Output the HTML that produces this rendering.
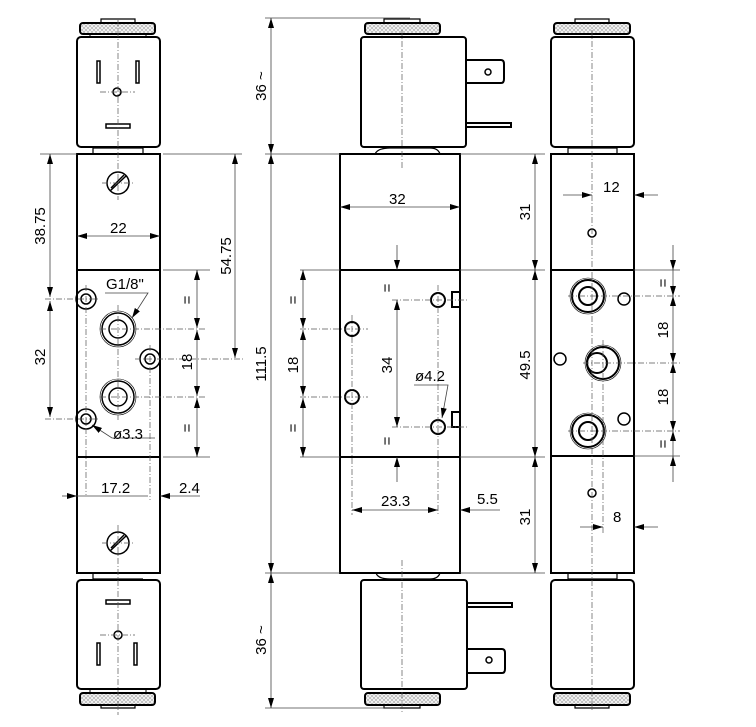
<!DOCTYPE html>
<html><head><meta charset="utf-8"><style>
html,body{margin:0;padding:0;background:#fff}
svg{display:block}
text{font-family:"Liberation Sans",Arial,sans-serif;font-size:15px;fill:#000}
</style></head><body>
<svg width="756" height="727" viewBox="0 0 756 727" xmlns="http://www.w3.org/2000/svg">
<defs>
<pattern id="kn" width="4" height="4" patternUnits="userSpaceOnUse"><rect width="4" height="4" fill="#f0f0f0"/><path d="M0 0L4 4M4 0L0 4" stroke="#999" stroke-width="0.5"/></pattern>
<marker id="a" viewBox="0 0 10 6" refX="10" refY="3" markerWidth="10" markerHeight="6" orient="auto-start-reverse" markerUnits="userSpaceOnUse"><path d="M0 0L10 3L0 6z" fill="#000"/></marker>
</defs>
<g fill="none" stroke="#000">
<!-- ===== LEFT VIEW ===== -->
<g stroke-width="2">
<rect x="77" y="154" width="83" height="419"/>
<line x1="77" y1="270" x2="160" y2="270"/><line x1="77" y1="457" x2="160" y2="457"/>
<rect x="77" y="37" width="83" height="110" rx="4"/>
<rect x="77" y="580" width="83" height="109" rx="4"/>
<rect x="80" y="23" width="75" height="11" rx="3" fill="url(#kn)"/>
<rect x="80" y="693" width="75" height="12" rx="3" fill="url(#kn)"/>
</g>
<path d="M101 23V19H135V23M101 705V708H135V705" stroke-width="1.2"/>
<path d="M93 154V148H143V154M93 573V579H143V579" stroke-width="1.2"/>
<path d="M90 34V37M146 34V37M90 689V693M146 689V693" stroke-width="1"/>
<g stroke-width="1.5">
<rect x="97" y="61" width="3" height="22"/><rect x="136" y="61" width="3" height="22"/>
<circle cx="117" cy="92" r="4"/><rect x="106" y="124" width="24" height="4"/>
<rect x="97" y="643" width="3" height="22"/><rect x="134" y="643" width="3" height="22"/>
<circle cx="118" cy="635" r="4"/><rect x="106" y="600" width="24" height="4"/>
<circle cx="118" cy="183" r="11"/><path d="M110 191L126 176M111 188L124 175" />
<circle cx="118" cy="543" r="11"/><path d="M110 551L126 536M111 548L124 535"/>
<circle cx="86" cy="299" r="10"/><circle cx="86" cy="299" r="5"/>
<circle cx="86" cy="419" r="10"/><circle cx="86" cy="419" r="5"/>
<circle cx="118" cy="329" r="16"/><circle cx="118" cy="329" r="9"/>
<circle cx="118" cy="397" r="16"/><circle cx="118" cy="397" r="9"/>
<circle cx="150" cy="359" r="10"/><circle cx="150" cy="359" r="5"/>
</g>
<circle cx="118" cy="329" r="18" stroke-width="0.6"/><circle cx="118" cy="397" r="18" stroke-width="0.6"/>
<g stroke-width="0.7" stroke-dasharray="6,2,1,2" stroke="#555">
<line x1="118" y1="20" x2="118" y2="200"/><line x1="118" y1="525" x2="118" y2="715"/>
<line x1="86" y1="285" x2="86" y2="495"/><line x1="150" y1="345" x2="150" y2="500"/>
<line x1="118" y1="305" x2="118" y2="420"/>
<line x1="45" y1="299" x2="100" y2="299"/><line x1="45" y1="419" x2="100" y2="419"/>
<line x1="100" y1="329" x2="205" y2="329"/><line x1="100" y1="397" x2="205" y2="397"/>
<line x1="135" y1="359" x2="245" y2="359"/><line x1="100" y1="92" x2="135" y2="92"/><line x1="100" y1="635" x2="135" y2="635"/>
<line x1="102" y1="183" x2="134" y2="183"/><line x1="102" y1="543" x2="134" y2="543"/>
</g>
<g stroke-width="0.8" stroke="#444">
<line x1="40" y1="154" x2="77" y2="154"/><line x1="163" y1="154" x2="242" y2="154"/>
<line x1="163" y1="270" x2="210" y2="270"/><line x1="163" y1="457" x2="210" y2="457"/>
<line x1="50" y1="154" x2="50" y2="297" marker-start="url(#a)" marker-end="url(#a)"/>
<line x1="50" y1="301" x2="50" y2="417" marker-start="url(#a)" marker-end="url(#a)"/>
<line x1="235" y1="154" x2="235" y2="358" marker-start="url(#a)" marker-end="url(#a)"/>
<line x1="77" y1="236" x2="160" y2="236" marker-start="url(#a)" marker-end="url(#a)"/>
<line x1="197" y1="270" x2="197" y2="328" marker-start="url(#a)" marker-end="url(#a)"/>
<line x1="197" y1="330" x2="197" y2="396" marker-start="url(#a)" marker-end="url(#a)"/>
<line x1="197" y1="398" x2="197" y2="457" marker-start="url(#a)" marker-end="url(#a)"/>
<line x1="62" y1="496" x2="77" y2="496" marker-end="url(#a)"/><line x1="77" y1="496" x2="148" y2="496"/>
<line x1="200" y1="496" x2="160" y2="496" marker-end="url(#a)"/>
<path d="M105 293H148L132 318" marker-end="url(#a)"/>
<path d="M155 438H112L92 425" marker-end="url(#a)"/>
</g>
<!-- ===== MIDDLE VIEW ===== -->
<g stroke-width="2">
<rect x="340" y="154" width="120" height="419"/>
<line x1="340" y1="270" x2="460" y2="270"/><line x1="340" y1="457" x2="460" y2="457"/>
<rect x="361" y="37" width="105" height="110" rx="3"/>
<rect x="361" y="580" width="106" height="109" rx="3"/>
<rect x="365" y="23" width="75" height="11" rx="3" fill="url(#kn)"/>
<rect x="365" y="693" width="75" height="12" rx="3" fill="url(#kn)"/>
<path d="M466 60H501Q504 60 504 64V79Q504 83 501 83H466"/>
<path d="M467 649H502Q505 649 505 653V669Q505 673 502 673H467"/>
<rect x="466" y="123" width="45" height="4"/><rect x="467" y="603" width="45" height="4"/>
<circle cx="438" cy="300" r="7"/><rect x="452" y="292" width="8" height="15"/>
<circle cx="438" cy="427" r="7"/><rect x="452" y="412" width="8" height="15"/>
<circle cx="352" cy="329" r="7"/><circle cx="352" cy="397" r="7"/>
</g>
<circle cx="488" cy="72" r="3" stroke-width="1.5"/><circle cx="489" cy="660" r="3" stroke-width="1.5"/>
<path d="M384 23V19H420V23M384 705V708H420V705M375 154Q378 148 390 148H430Q438 148 440 154M376 573Q378 579 390 579H430Q438 579 440 573" stroke-width="1.2"/>
<g stroke-width="0.7" stroke-dasharray="6,2,1,2" stroke="#555">
<line x1="402" y1="30" x2="402" y2="168"/><line x1="402" y1="560" x2="402" y2="712"/>
<line x1="438" y1="285" x2="438" y2="515"/><line x1="352" y1="315" x2="352" y2="515"/>
<line x1="300" y1="329" x2="368" y2="329"/><line x1="300" y1="397" x2="368" y2="397"/>
<line x1="392" y1="300" x2="468" y2="300"/><line x1="392" y1="427" x2="468" y2="427"/>
</g>
<g stroke-width="0.8" stroke="#444">
<line x1="265" y1="18" x2="410" y2="18"/><line x1="265" y1="154" x2="340" y2="154"/><line x1="265" y1="573" x2="340" y2="573"/><line x1="265" y1="708" x2="400" y2="708"/>
<line x1="271" y1="18" x2="271" y2="154" marker-start="url(#a)" marker-end="url(#a)"/>
<line x1="271" y1="154" x2="271" y2="573" marker-start="url(#a)" marker-end="url(#a)"/>
<line x1="271" y1="573" x2="271" y2="708" marker-start="url(#a)" marker-end="url(#a)"/>
<line x1="340" y1="207" x2="460" y2="207" marker-start="url(#a)" marker-end="url(#a)"/>
<line x1="300" y1="270" x2="340" y2="270"/><line x1="300" y1="457" x2="340" y2="457"/>
<line x1="303" y1="270" x2="303" y2="328" marker-start="url(#a)" marker-end="url(#a)"/>
<line x1="303" y1="330" x2="303" y2="396" marker-start="url(#a)" marker-end="url(#a)"/>
<line x1="303" y1="398" x2="303" y2="457" marker-start="url(#a)" marker-end="url(#a)"/>
<line x1="397" y1="245" x2="397" y2="270" marker-end="url(#a)"/>
<line x1="397" y1="300" x2="397" y2="427" marker-start="url(#a)" marker-end="url(#a)"/>
<line x1="397" y1="482" x2="397" y2="457" marker-end="url(#a)"/>
<line x1="352" y1="510" x2="438" y2="510" marker-start="url(#a)" marker-end="url(#a)"/>
<line x1="500" y1="510" x2="460" y2="510" marker-end="url(#a)"/>
<line x1="460" y1="154" x2="545" y2="154"/><line x1="460" y1="270" x2="545" y2="270"/><line x1="460" y1="457" x2="545" y2="457"/><line x1="460" y1="573" x2="545" y2="573"/>
<line x1="535" y1="154" x2="535" y2="270" marker-start="url(#a)" marker-end="url(#a)"/>
<line x1="535" y1="270" x2="535" y2="457" marker-start="url(#a)" marker-end="url(#a)"/>
<line x1="535" y1="457" x2="535" y2="573" marker-start="url(#a)" marker-end="url(#a)"/>
<path d="M414 385H448L442 418" marker-end="url(#a)"/>
</g>
<!-- ===== RIGHT VIEW ===== -->
<g stroke-width="2">
<rect x="551" y="154" width="83" height="419"/>
<line x1="551" y1="270" x2="634" y2="270"/><line x1="551" y1="456" x2="634" y2="456"/>
<rect x="551" y="37" width="83" height="110" rx="4"/>
<rect x="551" y="580" width="83" height="109" rx="4"/>
<rect x="554" y="23" width="76" height="11" rx="3" fill="url(#kn)"/>
<rect x="554" y="693" width="76" height="12" rx="3" fill="url(#kn)"/>
<circle cx="588" cy="296" r="16"/><circle cx="588" cy="296" r="9"/>
<circle cx="588" cy="431" r="16"/><circle cx="588" cy="431" r="9"/>
<circle cx="603" cy="363" r="16"/><circle cx="597" cy="363" r="10"/>
</g>
<g stroke-width="1.5">
<circle cx="592" cy="233" r="4"/><circle cx="592" cy="493" r="4"/>
<circle cx="624" cy="299" r="6"/><circle cx="624" cy="419" r="6"/><circle cx="560" cy="359" r="6"/>
</g>
<circle cx="588" cy="296" r="18" stroke-width="0.6"/><circle cx="588" cy="431" r="18" stroke-width="0.6"/><circle cx="603" cy="363" r="18" stroke-width="0.6"/>
<path d="M575 23V19H609V23M575 705V708H609V705M568 154V148H617V154M568 573V579H617V573" stroke-width="1.2"/>
<g stroke-width="0.7" stroke-dasharray="6,2,1,2" stroke="#555">
<line x1="592" y1="30" x2="592" y2="712"/><line x1="603" y1="340" x2="603" y2="535"/>
<line x1="568" y1="296" x2="680" y2="296"/><line x1="568" y1="431" x2="680" y2="431"/>
<line x1="583" y1="363" x2="680" y2="363"/>
</g>
<g stroke-width="0.8" stroke="#444">
<line x1="634" y1="270" x2="680" y2="270"/><line x1="634" y1="456" x2="680" y2="456"/>
<line x1="673" y1="245" x2="673" y2="270" marker-end="url(#a)"/>
<line x1="673" y1="270" x2="673" y2="296" marker-end="url(#a)"/>
<line x1="673" y1="296" x2="673" y2="363" marker-start="url(#a)" marker-end="url(#a)"/>
<line x1="673" y1="363" x2="673" y2="431" marker-start="url(#a)" marker-end="url(#a)"/>
<line x1="673" y1="431" x2="673" y2="456" marker-start="url(#a)"/>
<line x1="673" y1="482" x2="673" y2="456" marker-end="url(#a)"/>
<line x1="563" y1="195" x2="592" y2="195" marker-end="url(#a)"/>
<line x1="658" y1="195" x2="634" y2="195" marker-end="url(#a)"/>
<line x1="580" y1="527" x2="603" y2="527" marker-end="url(#a)"/>
<line x1="658" y1="527" x2="634" y2="527" marker-end="url(#a)"/>
</g>
</g>
<!-- labels -->
<text x="110" y="233">22</text>
<text x="106" y="289">G1/8"</text>
<text x="113" y="439">ø3.3</text>
<text x="101" y="493">17.2</text>
<text x="179" y="493">2.4</text>
<text transform="translate(45,226) rotate(-90)" text-anchor="middle">38.75</text>
<text transform="translate(45,357) rotate(-90)" text-anchor="middle">32</text>
<text transform="translate(231,256) rotate(-90)" text-anchor="middle">54.75</text>
<text transform="translate(192,362) rotate(-90)" text-anchor="middle">18</text>
<text transform="translate(192,300) rotate(-90)" text-anchor="middle">=</text>
<text transform="translate(192,428) rotate(-90)" text-anchor="middle">=</text>
<text transform="translate(266,86) rotate(-90)" text-anchor="middle">36 ~</text>
<text transform="translate(266,364) rotate(-90)" text-anchor="middle">111.5</text>
<text transform="translate(266,640) rotate(-90)" text-anchor="middle">36 ~</text>
<text x="389" y="204">32</text>
<text transform="translate(298,300) rotate(-90)" text-anchor="middle">=</text>
<text transform="translate(298,365) rotate(-90)" text-anchor="middle">18</text>
<text transform="translate(298,428) rotate(-90)" text-anchor="middle">=</text>
<text transform="translate(392,288) rotate(-90)" text-anchor="middle">=</text>
<text transform="translate(392,365) rotate(-90)" text-anchor="middle">34</text>
<text transform="translate(392,441) rotate(-90)" text-anchor="middle">=</text>
<text x="415" y="381">ø4.2</text>
<text x="381" y="506">23.3</text>
<text x="477" y="504">5.5</text>
<text transform="translate(530,212) rotate(-90)" text-anchor="middle">31</text>
<text transform="translate(530,365) rotate(-90)" text-anchor="middle">49.5</text>
<text transform="translate(530,517) rotate(-90)" text-anchor="middle">31</text>
<text x="603" y="192">12</text>
<text x="613" y="522">8</text>
<text transform="translate(668,283) rotate(-90)" text-anchor="middle">=</text>
<text transform="translate(668,330) rotate(-90)" text-anchor="middle">18</text>
<text transform="translate(668,397) rotate(-90)" text-anchor="middle">18</text>
<text transform="translate(668,444) rotate(-90)" text-anchor="middle">=</text>
</svg>
</body></html>
